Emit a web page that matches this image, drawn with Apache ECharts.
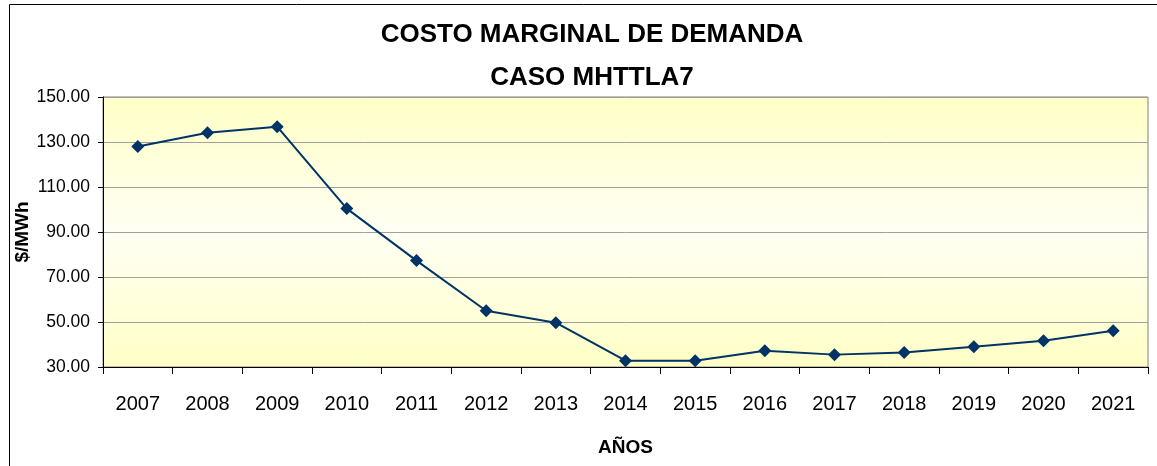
<!DOCTYPE html>
<html><head><meta charset="utf-8">
<script src="https://cdn.jsdelivr.net/npm/echarts@6/dist/echarts.min.js"></script>
<style>html,body{margin:0;padding:0;background:#fff}#c{width:1157px;height:466px}</style>
</head><body><div id="c"></div>
<script>
const years = ['2007','2008','2009','2010','2011','2012','2013','2014','2015','2016','2017','2018','2019','2020','2021'];
const costo = [128.0, 134.1, 136.8, 100.4, 77.3, 55.0, 49.7, 32.8, 32.8, 37.2, 35.5, 36.4, 39.0, 41.7, 46.1];
const titleLines = ['COSTO MARGINAL DE DEMANDA', 'CASO MHTTLA7'];
const yTitle = '$/MWh';
const xTitle = 'AÑOS';

const chart = echarts.init(document.getElementById('c'));
const font = '"Liberation Sans", Arial, sans-serif';
chart.setOption({
  animation: false,
  backgroundColor: '#fff',
  title: {
    text: titleLines.join('\n'),
    left: 587, top: 8, textAlign: 'center',
    textStyle: { fontFamily: font, fontWeight: 'bold', fontSize: 26, lineHeight: 43, color: '#000' }
  },
  graphic: [{
    type: 'rect', left: 7, top: 2, shape: { width: 1150, height: 464 },
    style: { fill: 'none', stroke: '#000', lineWidth: 1 }, silent: true, z: 100
  }],
  grid: {
    left: 103, right: 9, top: 97, bottom: 99,
    show: true, borderColor: '#808080', borderWidth: 1,
    backgroundColor: {
      type: 'linear', x: 0, y: 0, x2: 0, y2: 1,
      colorStops: [
        { offset: 0, color: '#FFFFC6' },
        { offset: 0.5, color: '#FFFFF4' },
        { offset: 1, color: '#FFFFC6' }
      ]
    }
  },
  xAxis: {
    type: 'category', data: years, boundaryGap: true,
    name: xTitle, nameLocation: 'middle', nameGap: 71, nameMoveOverlap: false,
    nameTextStyle: { fontFamily: font, fontWeight: 'bold', fontSize: 19, color: '#000' },
    axisLine: { lineStyle: { color: '#000', width: 1 } },
    axisTick: { show: true, length: 7, lineStyle: { color: '#000' } },
    axisLabel: { margin: 27, fontFamily: font, fontSize: 20, color: '#000' },
    splitLine: { show: false }
  },
  yAxis: {
    type: 'value', min: 30, max: 150, interval: 20,
    name: yTitle, nameLocation: 'middle', nameGap: 71, nameRotate: 90, nameMoveOverlap: false,
    nameTextStyle: { fontFamily: font, fontWeight: 'bold', fontSize: 19, color: '#000' },
    axisLine: { show: true, lineStyle: { color: '#000', width: 1 } },
    axisTick: { show: true, length: 5, lineStyle: { color: '#000' } },
    axisLabel: { margin: 13, fontFamily: font, fontSize: 17.5, color: '#000',
      formatter: v => v.toFixed(2) },
    splitLine: { show: true, lineStyle: { color: '#A0A0A0', width: 1 } }
  },
  series: [{
    type: 'line', data: costo,
    symbol: 'diamond', symbolSize: 13,
    lineStyle: { color: '#003366', width: 2 },
    itemStyle: { color: '#003366' }
  }]
});
</script></body></html>
